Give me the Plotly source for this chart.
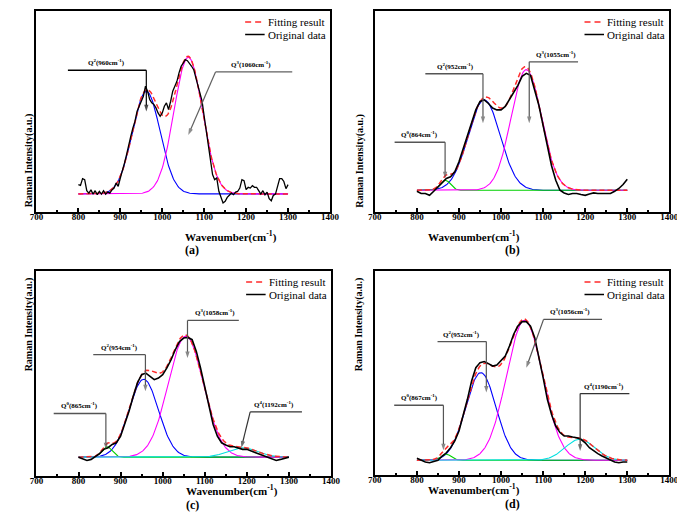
import numpy as np
import plotly.graph_objects as go

# ---------------- data (y in arbitrary units 0-100) ----------------
wavenumber_a = list(range(800, 1301, 5))
wavenumber = list(range(800, 1301, 10))

orig_a = [13.6, 13.2, 16.6, 16.1, 10.6, 9.4, 11.0, 8.9, 10.6, 8.6,
          10.3, 8.9, 10.6, 8.9, 9.9, 9.4, 11.0, 11.9, 14.4, 12.8,
          16.9, 20.3, 24.4, 28.6, 33.6, 37.7, 41.8, 45.2, 50.1, 52.6,
          56.0, 57.6, 62.6, 60.1, 56.0, 54.3, 53.5, 51.8, 49.3, 47.6,
          49.3, 52.6, 54.3, 51.0, 55.1, 60.1, 62.6, 65.0, 69.2, 72.5,
          74.1, 75.8, 75.3, 74.1, 72.5, 70.8, 67.0, 64.0, 60.0, 55.1,
          47.6, 40.1, 33.6, 25.2, 18.6, 16.1, 16.9, 10.3, 7.0, 4.5,
          5.3, 7.3, 8.3, 9.4, 8.6, 9.9, 10.3, 11.9, 16.1, 15.6,
          11.1, 12.3, 11.9, 13.1, 12.3, 12.3, 10.6, 8.9, 10.6, 8.6,
          9.9, 6.6, 5.6, 8.3, 8.9, 12.8, 16.6, 16.6, 15.2, 11.6, 13.6]
orig_b = [10.3, 9.2, 9.2, 8.3, 10.3, 12.5, 15.0, 16.7, 17.5, 20.0,
          25.0, 31.7, 37.5, 44.0, 50.8, 55.0, 55.8, 54.0, 51.7, 50.8,
          50.8, 52.5, 55.8, 59.0, 63.0, 67.5, 69.0, 68.0, 61.0, 53.0,
          43.0, 33.0, 23.0, 15.8, 10.8, 9.5, 8.7, 9.2, 9.2, 8.7,
          8.3, 9.0, 9.5, 9.2, 9.2, 9.5, 9.2, 10.3, 11.7, 13.7, 16.3]
orig_c = [9.2, 8.4, 7.6, 8.1, 9.7, 10.9, 13.0, 13.8, 15.4, 16.2,
          19.4, 25.1, 31.6, 38.9, 45.4, 49.4, 50.2, 48.6, 47.0, 47.8,
          49.4, 52.7, 56.7, 61.6, 65.6, 67.3, 67.6, 66.5, 60.8, 52.7,
          42.9, 33.2, 25.1, 19.4, 16.2, 15.1, 14.3, 14.3, 13.8, 13.0,
          13.0, 12.2, 11.3, 10.5, 9.7, 8.9, 8.4, 7.6, 8.1, 8.6, 9.2]
orig_d = [8.2, 7.2, 6.4, 6.0, 6.5, 7.2, 9.3, 10.9, 13.4, 16.7,
          21.6, 28.9, 37.1, 46.1, 52.6, 55.1, 55.6, 54.6, 53.4, 53.9,
          55.9, 58.3, 63.2, 69.0, 73.0, 75.2, 75.2, 73.0, 67.3, 58.3,
          47.7, 37.1, 29.7, 24.0, 20.8, 19.1, 19.1, 18.6, 18.3, 17.5,
          15.8, 13.4, 11.8, 10.5, 9.3, 8.2, 7.2, 6.4, 6.0, 6.4, 6.4]

# Gaussian fit components: centre, height above baseline, width (sigma)
baseline_a = 9.0
centers_a = [962, 1062]
heights_a = [51, 68]
sigmas_a = [33, 34]
colors_a = ["#0000ff", "#ff00ff"]

baseline_b = 10.8
centers_b = [960, 868, 1060]
heights_b = [45, 5, 60]
sigmas_b = [38, 12, 36]
colors_b = ["#0000ff", "#00d000", "#ff00ff"]

baseline_c = 9.2
centers_c = [955, 868, 1055, 1190]
heights_c = [38, 5, 59, 4.6]
sigmas_c = [35, 12, 42, 35]
colors_c = ["#0000ff", "#00d000", "#ff00ff", "#00e0e0"]

baseline_d = 7.2
centers_d = [952, 870, 1056, 1187]
heights_d = [43, 3, 68.6, 10.3]
sigmas_d = [36, 12, 43, 35]
colors_d = ["#0000ff", "#00d000", "#ff00ff", "#00e0e0"]

x_ticks = [700, 800, 900, 1000, 1100, 1200, 1300, 1400]

SERIF = "Liberation Serif"
W, H = 685, 513

panels = [
    dict(name="a", wx=wavenumber_a, orig=orig_a, base=baseline_a, c=centers_a, h=heights_a, s=sigmas_a,
         col=colors_a, px=(22, 323), py=(3, 204), lw=1.3),
    dict(name="b", wx=wavenumber, orig=orig_b, base=baseline_b, c=centers_b, h=heights_b, s=sigmas_b,
         col=colors_b, px=(369, 671), py=(3, 204), lw=1.6),
    dict(name="c", wx=wavenumber, orig=orig_c, base=baseline_c, c=centers_c, h=heights_c, s=sigmas_c,
         col=colors_c, px=(22, 324), py=(263, 468), lw=1.6),
    dict(name="d", wx=wavenumber, orig=orig_d, base=baseline_d, c=centers_d, h=heights_d, s=sigmas_d,
         col=colors_d, px=(369, 671), py=(263, 467), lw=1.6),
]

# callouts: (label, label_x, line_y, line_x0, line_x1, corner_x, tip_x, tip_y, colour)
callouts = {
    "a": [("Q<sup>2</sup>(960cm<sup>-1</sup>)", 868, 70.5, 775, 962, 962, 962, 50.0, "#000000"),
          ("Q<sup>3</sup>(1060cm<sup>-1</sup>)", 1212, 69.7, 1127, 1310, 1127, 1062, 38.3, "#606060")],
    "b": [("Q<sup>0</sup>(864cm<sup>-1</sup>)", 805, 34.7, 747, 867, 867, 867, 16.7, "#555555"),
          ("Q<sup>2</sup>(952cm<sup>-1</sup>)", 892, 68.8, 820, 957, 957, 957, 44.2, "#555555"),
          ("Q<sup>3</sup>(1055cm<sup>-1</sup>)", 1130, 74.7, 1067, 1183, 1067, 1067, 44.2, "#555555")],
    "c": [("Q<sup>0</sup>(865cm<sup>-1</sup>)", 802, 30.5, 741, 865, 865, 865, 13.0, "#555555"),
          ("Q<sup>2</sup>(954cm<sup>-1</sup>)", 898, 59.2, 835, 959, 959, 959, 41.3, "#555555"),
          ("Q<sup>3</sup>(1058cm<sup>-1</sup>)", 1125, 75.9, 1059, 1181, 1059, 1059, 57.5, "#555555"),
          ("Q<sup>4</sup>(1192cm<sup>-1</sup>)", 1265, 31.3, 1208, 1331, 1208, 1187, 13.8, "#333333")],
    "d": [("Q<sup>0</sup>(867cm<sup>-1</sup>)", 806, 34.2, 746, 863, 863, 863, 12.1, "#555555"),
          ("Q<sup>2</sup>(952cm<sup>-1</sup>)", 905, 65.4, 849, 965, 965, 965, 40.4, "#555555"),
          ("Q<sup>3</sup>(1056cm<sup>-1</sup>)", 1165, 76.3, 1101, 1240, 1101, 1060, 52.6, "#555555"),
          ("Q<sup>4</sup>(1190cm<sup>-1</sup>)", 1245, 39.9, 1188, 1305, 1188, 1188, 11.8, "#333333")],
}

fig = go.Figure()
shapes = []
annotations = []
xfine = np.arange(800, 1301, 2)

for i, p in enumerate(panels):
    k = "" if i == 0 else str(i + 1)
    xa, ya = "x" + k, "y" + k
    comps = [h * np.exp(-((xfine - c) ** 2) / (2 * s ** 2)) for c, h, s in zip(p["c"], p["h"], p["s"])]
    for j, comp in enumerate(comps):
        fig.add_trace(go.Scatter(x=xfine, y=p["base"] + comp, mode="lines",
                                 line=dict(color=p["col"][j], width=1.1),
                                 xaxis=xa, yaxis=ya, showlegend=False, hoverinfo="skip"))
    fit = p["base"] + np.sum(comps, axis=0)
    fig.add_trace(go.Scatter(x=xfine, y=fit, mode="lines",
                             line=dict(color="#ff2a2a", width=1.5, dash="5px,3px"),
                             xaxis=xa, yaxis=ya, showlegend=False, name="Fitting result"))
    fig.add_trace(go.Scatter(x=p["wx"], y=p["orig"], mode="lines",
                             line=dict(color="#000000", width=p["lw"]),
                             xaxis=xa, yaxis=ya, showlegend=False, name="Original data"))

    x0, x1 = p["px"][0] / W, p["px"][1] / W
    y0, y1 = 1 - p["py"][1] / H, 1 - p["py"][0] / H
    axis_common = dict(showline=True, mirror=True, linewidth=2, linecolor="black",
                       showgrid=False, zeroline=False)
    fig.update_layout(**{
        "xaxis" + k: dict(domain=[x0, x1], range=[700, 1400], tickvals=x_ticks,
                          ticks="inside", ticklen=4, tickwidth=1.5, tickcolor="black",
                          ticklabelstandoff=-5,
                          minor=dict(ticks="inside", ticklen=2, tickwidth=1.5, dtick=50,
                                     tickcolor="black", showgrid=False),
                          tickfont=dict(family=SERIF, size=9, color="black", weight="bold"),
                          anchor=ya, **axis_common),
        "yaxis" + k: dict(domain=[y0, y1], range=[0, 100], showticklabels=False, ticks="",
                          anchor=xa, **axis_common),
    })

    cx = (p["px"][0] + p["px"][1]) / 2 / W
    bottom = p["py"][1]
    annotations.append(dict(text="Wavenumber(cm<sup>-1</sup>)", x=cx, y=1 - (bottom + 24) / H,
                            xref="paper", yref="paper", showarrow=False,
                            font=dict(family=SERIF, size=11, color="black", weight="bold")))
    annotations.append(dict(text="(" + p["name"] + ")", x=cx, y=1 - (bottom + 38) / H,
                            xref="paper", yref="paper", showarrow=False,
                            font=dict(family=SERIF, size=12, color="black", weight="bold")))
    annotations.append(dict(text="Raman Intensity(a.u.)", x=(p["px"][0] - 16) / W,
                            y=1 - (p["py"][0] + p["py"][1]) / 2 / H,
                            xref="paper", yref="paper", showarrow=False, textangle=-90,
                            font=dict(family=SERIF, size=10, color="black", weight="bold")))

    # legend (manual, inside top-right)
    lx0 = p["px"][1] - 87
    ly = p["py"][0] + 11
    for row, (txt, colr, dsh) in enumerate([("Fitting result", "#ff2a2a", "6px,4px"),
                                            ("Original data", "black", "solid")]):
        yy = 1 - (ly + row * 12.5) / H
        shapes.append(dict(type="line", xref="paper", yref="paper",
                           x0=lx0 / W, x1=(lx0 + 20) / W, y0=yy, y1=yy,
                           line=dict(color=colr, width=1.5, dash=dsh)))
        annotations.append(dict(text=txt, x=(lx0 + 21) / W, y=yy, xref="paper", yref="paper",
                                xanchor="left", yanchor="middle", showarrow=False,
                                font=dict(family=SERIF, size=11, color="black")))

    # callouts
    for (lab, lab_x, ly_, lx0_, lx1_, cx_, tx, ty, colr) in callouts[p["name"]]:
        shapes.append(dict(type="line", xref=xa, yref=ya, x0=lx0_, x1=lx1_, y0=ly_, y1=ly_,
                           line=dict(color=colr, width=1.4)))
        fig.add_trace(go.Scatter(x=[cx_, tx], y=[ly_, ty], mode="lines+markers",
                                 line=dict(color=colr, width=1.2),
                                 marker=dict(symbol="arrow", size=[0, 7], angleref="previous",
                                             color=colr, line=dict(width=0)),
                                 xaxis=xa, yaxis=ya, showlegend=False, hoverinfo="skip"))
        annotations.append(dict(text="<b>" + lab + "</b>", x=lab_x, y=ly_, xref=xa, yref=ya,
                                xanchor="center", yanchor="bottom", yshift=1, showarrow=False,
                                font=dict(family=SERIF, size=7, color="black")))

fig.update_layout(width=W, height=H, margin=dict(l=0, r=0, t=0, b=0),
                  paper_bgcolor="white", plot_bgcolor="white",
                  shapes=shapes, annotations=annotations, showlegend=False)
fig.write_html("out.html")
